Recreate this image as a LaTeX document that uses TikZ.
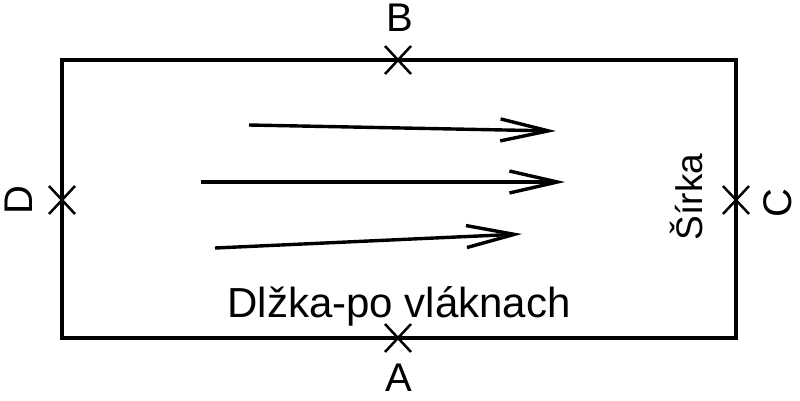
\documentclass[tikz,border=0pt]{standalone}
\usepackage{fontspec}
\setmainfont{Liberation Sans}
\usetikzlibrary{arrows.meta,calc}
\begin{document}
\begin{tikzpicture}[x=1pt,y=-1pt,
  frame/.style={line width=3.4pt},
  crossmark/.style={line width=2.5pt},
  lbl/.style={font=\fontsize{40}{46}\selectfont, inner sep=0pt},
  fibre/.style={line width=3.4pt, -{Straight Barb[length=48pt,width=22pt,line width=3.4pt]}}]
\useasboundingbox (0,0) rectangle (800,400);
\coordinate (tl) at (62,60);
\coordinate (br) at (736,338);
\draw[frame] (tl) rectangle (br);
% crosses
\coordinate (B) at (398,60);
\coordinate (A) at (398,338);
\coordinate (D) at (62,200);
\coordinate (C) at (736,200);
\foreach \p in {A,B,C,D}{
  \draw[crossmark] ($(\p)+(-13,-14)$) -- ($(\p)+(13,14)$);
  \draw[crossmark] ($(\p)+(-13,14)$) -- ($(\p)+(13,-14)$);
}
\node[lbl] (lB) at (400,18) {B};
\node[lbl] (lA) at (399,378) {A};
\node[lbl, rotate=90] (lD) at (19,200) {D};
\node[lbl, rotate=90] (lC) at (778,203) {C};
\node[lbl, font=\fontsize{37}{42}\selectfont, rotate=90, anchor=base] (sirka) at (702,197) {Šírka};
\node[lbl, font=\fontsize{42}{48}\selectfont, anchor=base] (dlzka) at (399,317) {Dlžka-po vláknach};
% arrows
\coordinate (a1s) at (249,125);
\coordinate (a1e) at (556,131);
\coordinate (a2s) at (201,182);
\coordinate (a2e) at (565,182);
\coordinate (a3s) at (215,248);
\coordinate (a3e) at (522,234);
\draw[fibre] (a1s) -- (a1e);
\draw[fibre] (a2s) -- (a2e);
\draw[fibre] (a3s) -- (a3e);
\end{tikzpicture}
\end{document}
